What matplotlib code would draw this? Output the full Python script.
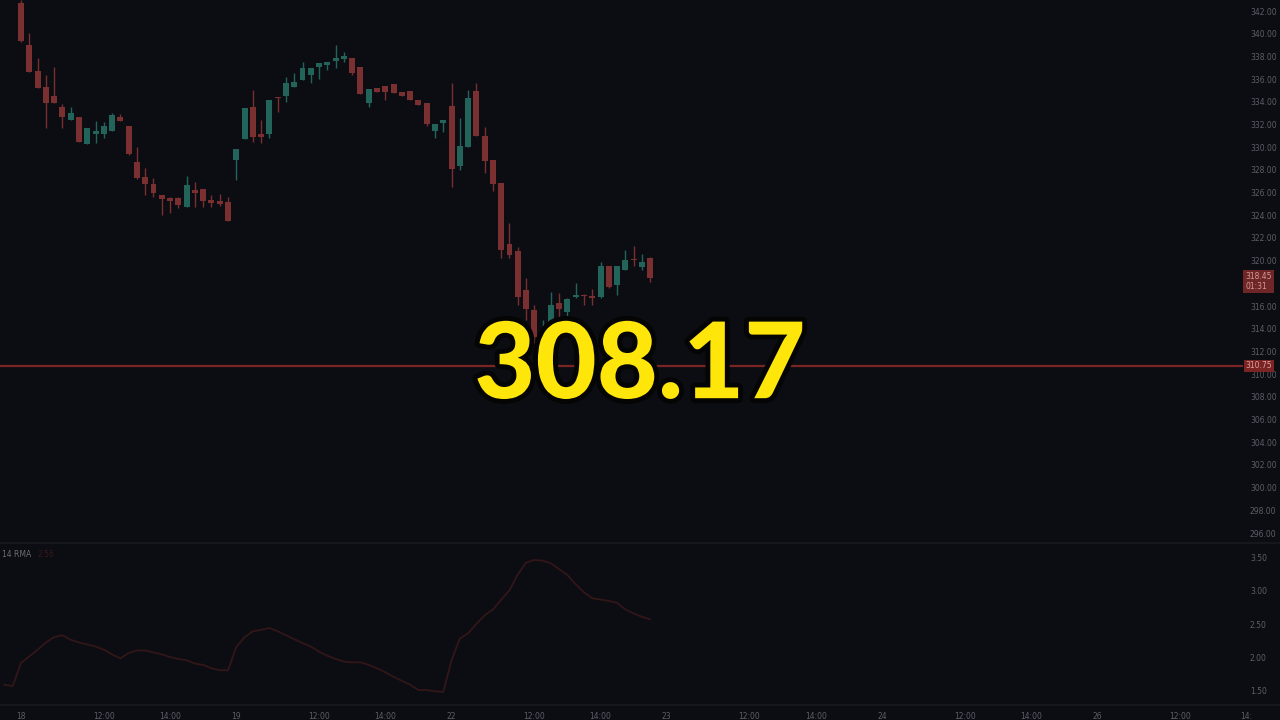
import numpy as np
import matplotlib.pyplot as plt
import matplotlib.patheffects as pe

# velas de 15 minutos (dias 18, 19 y 22)
opens = [342.7, 339.0, 336.7, 335.3, 334.5, 333.5, 332.4, 332.7, 330.3, 331.2, 331.2, 331.4, 332.7,
         331.9, 328.7, 327.4, 326.8, 325.8, 325.5, 325.5, 324.7, 326.2, 326.3, 325.35, 325.3, 325.2,
         328.9, 330.7, 333.5, 331.2, 331.2, 334.4, 334.5, 335.3, 335.9, 336.4, 337.1, 337.25, 337.6,
         337.8, 337.9, 337.1, 333.9, 335.2, 335.4, 335.6, 334.9, 334.95, 334.2, 333.9, 331.4, 332.1,
         333.6, 328.3, 330.0, 334.95, 331.0, 328.9, 326.85, 321.5, 320.85, 317.4, 315.65, 312.6, 314.3,
         316.3, 315.5, 316.8, 317.0, 316.85, 316.8, 319.5, 317.85, 319.2, 320.1, 319.45, 320.25]
highs = [343.0, 340.1, 337.9, 336.4, 337.1, 333.8, 333.5, 332.7, 331.7, 332.3, 332.2, 333.0, 332.9,
         331.9, 330.0, 328.2, 327.3, 325.8, 325.6, 325.6, 327.5, 326.9, 326.3, 325.8, 325.9, 325.6,
         329.8, 333.45, 335.0, 332.4, 334.2, 334.4, 336.2, 336.5, 337.5, 337.0, 337.4, 337.5, 339.0,
         338.4, 337.9, 337.1, 335.1, 335.2, 335.4, 335.6, 334.9, 334.95, 334.2, 333.9, 332.0, 332.4,
         335.7, 332.6, 335.0, 335.7, 331.8, 328.9, 326.85, 323.3, 321.2, 318.5, 316.1, 314.8, 317.2,
         317.15, 316.7, 318.0, 317.1, 317.5, 319.9, 319.5, 319.5, 320.9, 321.3, 320.6, 320.3]
lows = [339.3, 336.6, 335.2, 331.7, 333.9, 331.7, 332.4, 330.5, 330.3, 330.4, 330.8, 331.4, 332.3,
        329.3, 327.2, 325.8, 325.6, 324.0, 324.2, 324.6, 324.7, 324.7, 324.7, 324.7, 324.8, 323.5,
        327.1, 330.7, 330.5, 330.4, 330.8, 333.1, 334.0, 335.3, 335.9, 335.7, 336.0, 336.8, 337.0,
        337.5, 336.4, 334.7, 333.5, 334.9, 334.2, 334.8, 334.5, 334.2, 333.7, 331.9, 330.8, 331.3,
        326.5, 328.0, 330.0, 331.0, 327.7, 326.1, 320.2, 320.2, 316.1, 314.8, 312.75, 312.3, 313.8,
        315.0, 315.0, 316.7, 316.1, 316.1, 316.7, 317.6, 317.0, 319.2, 319.5, 319.2, 318.1]
closes = [339.4, 336.6, 335.2, 333.9, 333.9, 332.7, 333.0, 330.5, 331.7, 331.4, 331.9, 332.8, 332.3,
          329.4, 327.3, 326.8, 326.0, 325.4, 325.3, 324.9, 326.7, 326.0, 325.3, 325.1, 325.0, 323.5,
          329.8, 333.45, 330.9, 330.9, 334.2, 334.35, 335.7, 335.75, 337.0, 337.0, 337.4, 337.5, 337.9,
          338.0, 336.5, 334.7, 335.1, 334.9, 334.9, 334.8, 334.5, 334.2, 333.7, 332.0, 332.0, 332.4,
          328.1, 330.1, 334.3, 331.0, 328.8, 326.8, 320.9, 320.5, 316.8, 315.7, 313.3, 313.9, 316.1,
          315.7, 316.6, 317.0, 316.9, 316.7, 319.5, 317.7, 319.5, 320.1, 320.05, 319.9, 318.45]

# indicador 14 RMA (empieza dos velas antes del 18)
rma_bars = list(range(-2, 77))
rma = [1.58, 1.56, 1.91, 2.01, 2.11, 2.22, 2.30, 2.33, 2.26, 2.22, 2.19, 2.16, 2.11, 2.04, 1.98, 2.06,
       2.10, 2.10, 2.07, 2.04, 2.00, 1.97, 1.95, 1.90, 1.88, 1.83, 1.80, 1.80, 2.15, 2.30, 2.39, 2.41,
       2.44, 2.39, 2.33, 2.27, 2.21, 2.16, 2.08, 2.02, 1.97, 1.93, 1.92, 1.92, 1.88, 1.83, 1.77, 1.70,
       1.64, 1.58, 1.50, 1.50, 1.48, 1.47, 1.95, 2.28, 2.36, 2.50, 2.63, 2.72, 2.87, 3.01, 3.25, 3.43,
       3.47, 3.46, 3.42, 3.33, 3.24, 3.10, 2.98, 2.89, 2.87, 2.85, 2.82, 2.72, 2.66, 2.61, 2.57]

price_ticks = list(range(296, 343, 2))
rma_ticks = [1.5, 2.0, 2.5, 3.0, 3.5]
time_pos = [0, 10, 18, 26, 36, 44, 52, 62, 70, 78, 88, 96, 104, 114, 122, 130, 140]
time_labels = ['18', '12:00', '14:00', '19', '12:00', '14:00', '22', '12:00', '14:00',
               '23', '12:00', '14:00', '24', '12:00', '14:00', '26', '12:00']
line_level = 310.75
last_price = 318.45
big_text = '308.17'

bg = '#0b0d12'
red = '#7a3030'
green = '#23645a'
txt = '#5c5f68'

fig = plt.figure(figsize=(12.8, 7.2), dpi=100, facecolor=bg)
ax = fig.add_axes([0, 179 / 720, 1243 / 1280, 541 / 720], facecolor=bg)
ax2 = fig.add_axes([0, 15 / 720, 1243 / 1280, 162 / 720], facecolor=bg)

x = np.arange(len(opens))
o = np.array(opens); c = np.array(closes)
up = c >= o
cols = np.where(up, green, red)
ax.vlines(x, lows, highs, colors=cols, lw=1)
body = np.maximum(np.abs(c - o), 0.08)
ax.bar(x, body, bottom=np.minimum(o, c), width=0.72, color=cols, linewidth=0)

ax.axhline(line_level, color='#7a2424', lw=1.6)
ax.set_xlim(-2.54, 147.6)
ax.set_ylim(295.3, 342.97)
ax.set_xticks([])
ax.yaxis.tick_right()
ax.set_yticks(price_ticks)
# la etiqueta 318.00 queda tapada por el recuadro del precio actual
ax.set_yticklabels(['' if v == 318 else f'{v:.2f}' for v in price_ticks])
ax.tick_params(axis='y', length=0, pad=5, labelsize=5.5, labelcolor=txt)
for s in ax.spines.values():
    s.set_visible(False)

# etiquetas de precio en el eje
ax.text(1.002, last_price - 0.3, f'{last_price:.2f}\n01:31', transform=ax.get_yaxis_transform(),
        ha='left', va='center', fontsize=5.5, color='#d69a9a', linespacing=1.1,
        bbox=dict(boxstyle='square,pad=0.3', fc='#6e2626', ec='none'))
ax.text(1.002, line_level, f'{line_level:.2f}', transform=ax.get_yaxis_transform(),
        ha='left', va='center', fontsize=5.5, color='#e0a0a0',
        bbox=dict(boxstyle='square,pad=0.2', fc='#7a2424', ec='none'), zorder=5)

# panel inferior
ax2.plot(rma_bars, rma, color='#331618', lw=1.3)
ax2.set_xlim(-2.54, 147.6)
ax2.set_ylim(1.273, 3.727)
ax2.yaxis.tick_right()
ax2.set_yticks(rma_ticks)
ax2.set_yticklabels([f'{v:.2f}' for v in rma_ticks])
ax2.set_xticks(time_pos)
ax2.set_xticklabels(time_labels)
ax2.tick_params(axis='y', length=0, pad=5, labelsize=5.5, labelcolor=txt)
ax2.tick_params(axis='x', length=0, pad=5, labelsize=5.5, labelcolor=txt)
for s in ax2.spines.values():
    s.set_visible(False)
ax2.text(148, -0.07, '14:', transform=ax2.get_xaxis_transform(), ha='center', va='center',
         fontsize=5.5, color=txt, clip_on=False)
ax2.text(0.002, 0.93, '14 RMA', transform=ax2.transAxes, fontsize=5.5, color='#6a6d76', va='center')
ax2.text(0.03, 0.93, '2.56', transform=ax2.transAxes, fontsize=5.5, color='#3a171a', va='center')

# separadores
fig.add_artist(plt.Line2D([0, 1], [1 - 543 / 720] * 2, color='#15171d', lw=1.5))
fig.add_artist(plt.Line2D([0, 1], [1 - 705 / 720] * 2, color='#15171d', lw=1.5))

fig.text(0.5, 0.49, big_text, ha='center', va='center', fontsize=76, color='#ffe60a',
         family=['Lato', 'DejaVu Sans'], fontweight='black',
         path_effects=[pe.withStroke(linewidth=7, foreground='#050505')])

fig.savefig('out.png', dpi=100, facecolor=bg)
